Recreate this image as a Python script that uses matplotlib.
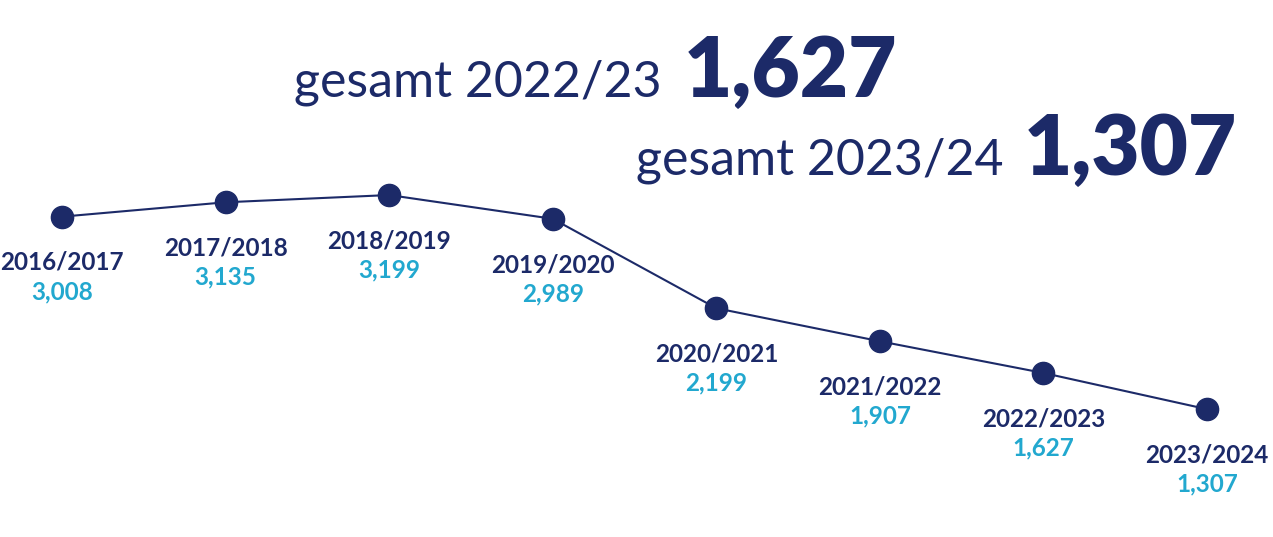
import matplotlib.pyplot as plt

# school years and totals
years = ['2016/2017', '2017/2018', '2018/2019', '2019/2020',
         '2020/2021', '2021/2022', '2022/2023', '2023/2024']
values = [3008, 3135, 3199, 2989, 2199, 1907, 1627, 1307]

navy = '#1c2a68'
cyan = '#22a8cf'
W, H = 1273, 537

plt.rcParams['font.family'] = ['Lato', 'DejaVu Sans']

fig = plt.figure(figsize=(W / 100, H / 100), dpi=100)
ax = fig.add_axes([0, 0, 1, 1])
ax.set_axis_off()

x = list(range(len(values)))
ax.plot(x, values, color=navy, lw=1.5, marker='o', markersize=16, zorder=3)
ax.set_xlim(-0.379, 7.403)
ax.set_ylim(178, 4922)

for i, (yr, v) in enumerate(zip(years, values)):
    ax.annotate(yr, (i, v), xytext=(0, -33), textcoords='offset points',
                ha='center', va='center', fontsize=17.5, fontweight='bold', color=navy)
    ax.annotate(f'{v:,}', (i, v), xytext=(0, -54), textcoords='offset points',
                ha='center', va='center', fontsize=17.5, fontweight='bold', color=cyan)

# headline totals
fig.text(662 / W, 1 - 97 / H, 'gesamt 2022/23', ha='right', va='baseline',
         fontsize=36, color=navy)
fig.text(684 / W, 1 - 97 / H, f'{values[-2]:,}', ha='left', va='baseline',
         fontsize=60, fontweight='heavy', color=navy)
fig.text(1003 / W, 1 - 175 / H, 'gesamt 2023/24', ha='right', va='baseline',
         fontsize=36, color=navy)
fig.text(1024 / W, 1 - 175 / H, f'{values[-1]:,}', ha='left', va='baseline',
         fontsize=60, fontweight='heavy', color=navy)

fig.savefig('out.png', dpi=100)
